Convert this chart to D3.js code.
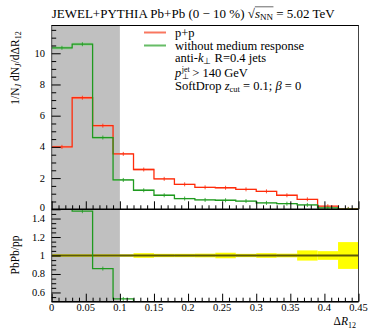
<!DOCTYPE html>
<html>
<head>
<meta charset="utf-8">
<script src="https://cdn.jsdelivr.net/npm/d3@7"></script>
<style>
  body { margin: 0; background: #fff; }
  svg { display: block; font-family: 'Liberation Serif', serif; }
</style>
</head>
<body>
<svg id="chart" width="369" height="328"></svg>
<script>
// bin edges in dR12
const binEdges = [0, 0.03, 0.06, 0.09, 0.12, 0.15, 0.18, 0.21, 0.24, 0.27, 0.30, 0.33, 0.36, 0.39, 0.42, 0.45];
// p+p distribution
const ppValues = [4.0, 7.15, 5.36, 3.55, 2.55, 1.95, 1.60, 1.41, 1.38, 1.28, 1.15, 0.90, 0.64, 0.20, 0.03];
const ppErrors = [0.08, 0.1, 0.08, 0.06, 0.06, 0.05, 0.04, 0.04, 0.04, 0.04, 0.04, 0.03, 0.03, 0.02, 0.01];
// without medium response
const wmrValues = [10.35, 10.58, 4.6, 1.88, 1.22, 0.90, 0.69, 0.60, 0.58, 0.53, 0.41, 0.36, 0.28, 0.09, 0.01];
const wmrErrors = [0.1, 0.1, 0.08, 0.06, 0.05, 0.04, 0.04, 0.03, 0.03, 0.03, 0.03, 0.03, 0.02, 0.02, 0.01];
// relative uncertainty of the p+p reference in the ratio panel
const ratioBand = [0.012, 0.012, 0.012, 0.012, 0.025, 0.018, 0.018, 0.02, 0.03, 0.018, 0.025, 0.02, 0.055, 0.047, 0.145];

const xTicks = [0, 0.05, 0.1, 0.15, 0.2, 0.25, 0.3, 0.35, 0.4, 0.45];
const yTicksTop = [0, 2, 4, 6, 8, 10];
const yTicksRatio = [0.6, 0.8, 1, 1.2, 1.4];
const shadedUpTo = 0.1;

const RED = '#ff2b0a', RED_BAND = '#f8a090';
const GREEN = '#1f9a1f', GREEN_BAND = '#90d090';

const svg = d3.select('#chart');

const left = 51.7, right = 358.5;
const topY = 25.5, midY = 209.3, botY = 301.7;

const x = d3.scaleLinear().domain([0, 0.45]).range([left, right]);
const y = d3.scaleLinear().domain([0, 11.78]).range([midY, topY]);
const yr = d3.scaleLinear().domain([0.5, 1.5]).range([botY, midY]);

const bins = ppValues.map((v, i) => ({
  x0: binEdges[i], x1: binEdges[i + 1],
  pp: v, ppErr: ppErrors[i],
  wmr: wmrValues[i], wmrErr: wmrErrors[i],
  ratio: wmrValues[i] / v, band: ratioBand[i]
}));

// clipping for the two panels
const defs = svg.append('defs');
defs.append('clipPath').attr('id', 'clipTop')
  .append('rect').attr('x', left).attr('y', topY).attr('width', right - left).attr('height', midY - topY);
defs.append('clipPath').attr('id', 'clipRatio')
  .append('rect').attr('x', left).attr('y', midY).attr('width', right - left).attr('height', botY - midY);

// grey shaded region
svg.append('rect')
  .attr('x', x(0)).attr('y', topY)
  .attr('width', x(shadedUpTo) - x(0)).attr('height', botY - topY)
  .attr('fill', '#c0c0c0');

// step path helper
const stepLine = (key, yScale) => {
  const pts = [];
  bins.forEach(b => {
    const v = b[key];
    if (!isFinite(v)) return;
    pts.push([x(b.x0), yScale(v)], [x(b.x1), yScale(v)]);
  });
  return d3.line()(pts);
};

// ---- upper panel ----
const gTop = svg.append('g').attr('clip-path', 'url(#clipTop)');

[['pp', 'ppErr', RED_BAND], ['wmr', 'wmrErr', GREEN_BAND]].forEach(([key, ek, bandCol]) => {
  gTop.append('g').selectAll('rect')
    .data(bins).enter().append('rect')
    .attr('x', d => x(d.x0))
    .attr('width', d => x(d.x1) - x(d.x0))
    .attr('y', d => y(d[key] + d[ek]))
    .attr('height', d => Math.max(y(d[key] - d[ek]) - y(d[key] + d[ek]), 1))
    .attr('fill', bandCol)
    .attr('opacity', 0.7);
});

[['pp', RED], ['wmr', GREEN]].forEach(([key, col]) => {
  gTop.append('path')
    .attr('d', stepLine(key, y))
    .attr('fill', 'none')
    .attr('stroke', col)
    .attr('stroke-width', 1.3);
  gTop.append('g').selectAll('line')
    .data(bins).enter().append('line')
    .attr('x1', d => x((d.x0 + d.x1) / 2)).attr('x2', d => x((d.x0 + d.x1) / 2))
    .attr('y1', d => y(d[key]) - 2).attr('y2', d => y(d[key]) + 2)
    .attr('stroke', col).attr('stroke-width', 0.8);
});

// ---- ratio panel ----
const gRatio = svg.append('g').attr('clip-path', 'url(#clipRatio)');

gRatio.append('g').selectAll('rect')
  .data(bins).enter().append('rect')
  .attr('x', d => x(d.x0))
  .attr('width', d => x(d.x1) - x(d.x0))
  .attr('y', d => yr(1 + d.band))
  .attr('height', d => yr(1 - d.band) - yr(1 + d.band))
  .attr('fill', '#ffff00');

gRatio.append('line')
  .attr('x1', x(0)).attr('x2', x(0.45))
  .attr('y1', yr(1)).attr('y2', yr(1))
  .attr('stroke', '#5e5a08').attr('stroke-width', 2);

gRatio.append('path')
  .attr('d', stepLine('ratio', yr))
  .attr('fill', 'none')
  .attr('stroke', GREEN)
  .attr('stroke-width', 1.3);

gRatio.append('g').selectAll('line')
  .data(bins).enter().append('line')
  .attr('x1', d => x((d.x0 + d.x1) / 2)).attr('x2', d => x((d.x0 + d.x1) / 2))
  .attr('y1', d => yr(d.ratio) - 2).attr('y2', d => yr(d.ratio) + 2)
  .attr('stroke', GREEN).attr('stroke-width', 0.8);

// ---- frames ----
svg.append('rect')
  .attr('x', left).attr('y', topY)
  .attr('width', right - left).attr('height', botY - topY)
  .attr('fill', 'none').attr('stroke', '#444').attr('stroke-width', 1);
svg.append('line')
  .attr('x1', left).attr('x2', right).attr('y1', topY).attr('y2', topY)
  .attr('stroke', '#000').attr('stroke-width', 1.2);
[midY, botY].forEach(yy => {
  svg.append('line')
    .attr('x1', left).attr('x2', right).attr('y1', yy).attr('y2', yy)
    .attr('stroke', '#000').attr('stroke-width', 1.6);
});

// ---- axes (ticks pointing inwards) ----
const xMinor = d3.range(1, 45).map(i => i / 100).filter(v => Math.round(v * 100) % 5 !== 0);

[midY, botY].forEach(yy => {
  svg.append('g').attr('transform', `translate(0,${yy})`)
    .call(d3.axisTop(x).tickValues(xTicks).tickSize(8).tickFormat(''))
    .call(g => g.select('.domain').remove());
  svg.append('g').attr('transform', `translate(0,${yy})`)
    .call(d3.axisTop(x).tickValues(xMinor).tickSize(4).tickFormat(''))
    .call(g => g.select('.domain').remove());
});

// x tick labels under ratio panel
svg.append('g').selectAll('text')
  .data(xTicks).enter().append('text')
  .attr('x', d => x(d)).attr('y', 310.5)
  .attr('text-anchor', 'middle')
  .attr('font-size', 10.5)
  .text(d => d === 0 ? '0' : d3.format('.2~f')(d));

const yMinorTop = d3.range(0.5, 11.6, 0.5).filter(v => v % 2 !== 0);
svg.append('g').attr('transform', `translate(${left},0)`)
  .call(d3.axisRight(y).tickValues(yTicksTop).tickSize(9).tickFormat(''))
  .call(g => g.select('.domain').remove());
svg.append('g').attr('transform', `translate(${left},0)`)
  .call(d3.axisRight(y).tickValues(yMinorTop).tickSize(4.5).tickFormat(''))
  .call(g => g.select('.domain').remove());

const yMinorRatio = d3.range(0.55, 1.5, 0.05).filter(v => Math.abs(v * 5 - Math.round(v * 5)) > 0.01);
svg.append('g').attr('transform', `translate(${left},0)`)
  .call(d3.axisRight(yr).tickValues(yTicksRatio).tickSize(9).tickFormat(''))
  .call(g => g.select('.domain').remove());
svg.append('g').attr('transform', `translate(${left},0)`)
  .call(d3.axisRight(yr).tickValues(yMinorRatio).tickSize(4.5).tickFormat(''))
  .call(g => g.select('.domain').remove());

svg.selectAll('.tick line').attr('stroke', '#000').attr('stroke-width', 1);

svg.append('g').selectAll('text')
  .data(yTicksTop).enter().append('text')
  .attr('x', 45).attr('y', d => y(d) + (d === 0 ? 2 : 3.5))
  .attr('text-anchor', 'end').attr('font-size', 10.5)
  .text(d => d);
svg.append('g').selectAll('text')
  .data(yTicksRatio).enter().append('text')
  .attr('x', 45).attr('y', d => yr(d) + 3.5)
  .attr('text-anchor', 'end').attr('font-size', 10.5)
  .text(d => d3.format('~g')(d));

// ---- title ----
const title = svg.append('text').attr('x', 51.7).attr('y', 17.5).attr('font-size', 13);
title.append('tspan').text('JEWEL+PYTHIA Pb+Pb (0 − 10 %) √');
title.append('tspan').attr('font-style', 'italic').text('s');
title.append('tspan').attr('font-size', 9).attr('dy', 2.5).text('NN');
title.append('tspan').attr('dy', -2.5).text(' = 5.02 TeV');
{
  const node = title.node();
  const full = node.textContent;
  const i0 = full.indexOf('√') + 1, i1 = full.indexOf('NN') + 1;
  const xa = node.getStartPositionOfChar(i0).x, xb = node.getEndPositionOfChar(i1).x;
  svg.append('line').attr('x1', xa).attr('x2', xb + 0.5).attr('y1', 6.8).attr('y2', 6.8)
    .attr('stroke', '#000').attr('stroke-width', 0.6);
}

// ---- legend ----
const lx = 175, fs = 12.5;
[[RED_BAND, RED, 32.5, 'p+p'], [GREEN_BAND, GREEN, 45.5, 'without medium response']].forEach(([bc, c, yy, label]) => {
  svg.append('line').attr('x1', 144).attr('x2', 166).attr('y1', yy).attr('y2', yy)
    .attr('stroke', bc).attr('stroke-width', 2.4);
  svg.append('line').attr('x1', 144).attr('x2', 166).attr('y1', yy).attr('y2', yy)
    .attr('stroke', c).attr('stroke-width', 0.6).attr('opacity', 0.6);
  svg.append('text').attr('x', lx).attr('y', yy + 4).attr('font-size', fs).text(label);
});

const t1 = svg.append('text').attr('x', lx).attr('y', 62).attr('font-size', fs);
t1.append('tspan').text('anti-');
t1.append('tspan').attr('font-style', 'italic').text('k');
t1.append('tspan').attr('font-size', 8.5).attr('dy', 1.5).text('⊥');
t1.append('tspan').attr('dy', -1.5).text(' R=0.4 jets');

// p_perp^jet with stacked sub/superscript
{
  const base = 76.5;
  const p = svg.append('text').attr('x', lx).attr('y', base).attr('font-size', fs)
    .attr('font-style', 'italic').text('p');
  const pw = p.node().getComputedTextLength();
  const sup = svg.append('text').attr('x', lx + pw + 0.5).attr('y', base - 5).attr('font-size', 8).text('jet');
  const sub = svg.append('text').attr('x', lx + pw + 0.5).attr('y', base + 2).attr('font-size', 8).text('⊥');
  const w = Math.max(sup.node().getComputedTextLength(), sub.node().getComputedTextLength());
  svg.append('text').attr('x', lx + pw + w + 3).attr('y', base).attr('font-size', fs).text('> 140 GeV');
}

const t3 = svg.append('text').attr('x', lx).attr('y', 90).attr('font-size', fs);
t3.append('tspan').text('SoftDrop ');
t3.append('tspan').attr('font-style', 'italic').text('z');
t3.append('tspan').attr('font-size', 8.5).attr('dy', 2).text('cut');
t3.append('tspan').attr('dy', -2).text(' = 0.1; ');
t3.append('tspan').attr('font-style', 'italic').text('β');
t3.append('tspan').text(' = 0');

// ---- axis titles ----
const yl = svg.append('text')
  .attr('transform', 'translate(18.5,68) rotate(-90)')
  .attr('text-anchor', 'middle').attr('font-size', 11.5);
yl.append('tspan').text('1/N');
yl.append('tspan').attr('font-size', 8).attr('font-style', 'italic').attr('dy', 2).text('J');
yl.append('tspan').attr('dy', -2).text(' dN');
yl.append('tspan').attr('font-size', 8).attr('font-style', 'italic').attr('dy', 2).text('J');
yl.append('tspan').attr('dy', -2).text('/dΔR');
yl.append('tspan').attr('font-size', 8).attr('dy', 2).text('12');

svg.append('text')
  .attr('transform', 'translate(18.5,255) rotate(-90)')
  .attr('text-anchor', 'middle').attr('font-size', 11.5)
  .text('PbPb/pp');

const xl = svg.append('text').attr('x', 356).attr('y', 325).attr('text-anchor', 'end').attr('font-size', 11.5);
xl.append('tspan').text('Δ');
xl.append('tspan').attr('font-style', 'italic').text('R');
xl.append('tspan').attr('font-size', 8).attr('dy', 2.5).text('12');
</script>
</body>
</html>
